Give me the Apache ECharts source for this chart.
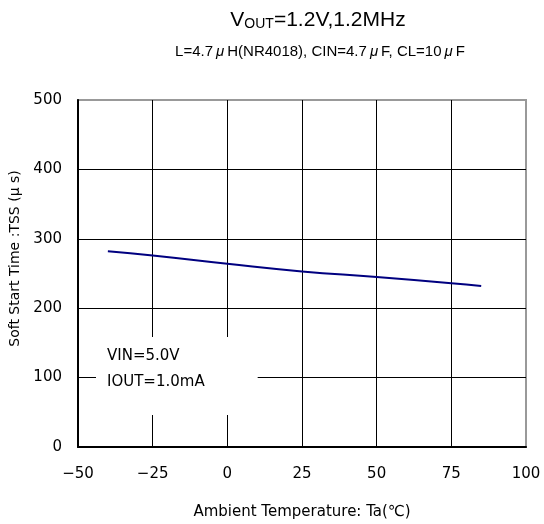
<!DOCTYPE html>
<html>
<head>
<meta charset="utf-8">
<script src="https://cdn.jsdelivr.net/npm/echarts@6/dist/echarts.min.js"></script>
<style>
  html, body { margin: 0; padding: 0; background: #fff; }
  #main { width: 544px; height: 524px; }
</style>
</head>
<body>
<div id="main"></div>
<script>
// 周囲温度ごとのソフトスタート時間
var temps = [-40, -25, 0, 25, 50, 75, 85];
var tss = [282, 276, 264, 253, 245, 236, 232];
var xTicks = [-50, -25, 0, 25, 50, 75, 100];
var yTicks = [0, 100, 200, 300, 400, 500];

var myChart = echarts.init(document.getElementById('main'));
var ax = '"DejaVu Sans", sans-serif';
var ar = '"Liberation Sans", Arial';

var points = temps.map(function (t, i) { return [t, tss[i]]; });

option = {
    animation: false,
    backgroundColor: '#fff',
    title: [{
        text: '{v|V}{s|OUT}{v|=1.2V,1.2MHz}',
        left: 313,
        top: 4,
        textAlign: 'center',
        textStyle: {
            rich: {
                v: { fontFamily: ar, fontSize: 21, fontWeight: 'normal', color: '#000' },
                s: { fontFamily: ar, fontSize: 14, fontWeight: 'normal', color: '#000', verticalAlign: 'bottom', padding: [8, 0, 0, 0] }
            }
        }
    }, {
        text: '{a|L=4.7}{u|\u03bc}{a|H(NR4018), CIN=4.7}{u|\u03bc}{a|F, CL=10}{u|\u03bc}{a|F}',
        left: 315,
        top: 39,
        textAlign: 'center',
        textStyle: {
            fontWeight: 'normal',
            fontSize: 15,
            rich: {
                a: { fontFamily: ar, fontSize: 15, fontWeight: 'normal', color: '#000' },
                u: { fontFamily: ar, fontSize: 15, fontWeight: 'normal', fontStyle: 'italic', color: '#000', padding: [0, 3, 0, 3] }
            }
        }
    }, {
        text: 'VIN=5.0V\nIOUT=1.0mA',
        left: 96,
        top: 337,
        backgroundColor: '#fff',
        padding: [6, 53, 20, 11],
        textStyle: { fontFamily: ax, fontSize: 15, fontWeight: 'normal', color: '#000', lineHeight: 26 }
    }],
    grid: {
        left: 78, right: 18, top: 100, bottom: 77,
        outerBoundsMode: 'none',
        show: true, borderColor: '#999', borderWidth: 2
    },
    xAxis: {
        type: 'value',
        min: -50, max: 100, interval: 25,
        name: 'Ambient Temperature: Ta(\u2103)',
        nameLocation: 'middle',
        nameGap: 58,
        nameTextStyle: { fontFamily: ax, fontSize: 15, color: '#000' },
        axisLine: { onZero: false, lineStyle: { color: '#000', width: 2 } },
        axisTick: { show: false },
        axisLabel: {
            fontFamily: ax, fontSize: 15, color: '#000', margin: 20,
            formatter: function (v) { return xTicks.indexOf(v) >= 0 ? String(v).replace('-', '\u2212') : ''; }
        },
        splitLine: { show: true, showMinLine: false, showMaxLine: false, lineStyle: { color: '#000', width: 1 } }
    },
    yAxis: {
        type: 'value',
        min: 0, max: 500, interval: 100,
        name: 'Soft Start Time :TSS (\u03bc s)',
        nameLocation: 'middle',
        nameGap: 55,
        nameTextStyle: { fontFamily: ax, fontSize: 14, color: '#000', padding: [0, 0, 0, 30] },
        axisLine: { show: true, onZero: false, lineStyle: { color: '#000', width: 2 } },
        axisTick: { show: false },
        axisLabel: {
            fontFamily: ax, fontSize: 15, color: '#000', margin: 16,
            formatter: function (v) { return yTicks.indexOf(v) >= 0 ? String(v) : ''; }
        },
        splitLine: { show: true, showMinLine: false, showMaxLine: false, lineStyle: { color: '#000', width: 1 } }
    },
    series: [{
        type: 'line',
        data: points,
        showSymbol: false,
        smooth: true,
        lineStyle: { color: '#000080', width: 2 },
        z: 1
    }]
};

myChart.setOption(option);
</script>
</body>
</html>
